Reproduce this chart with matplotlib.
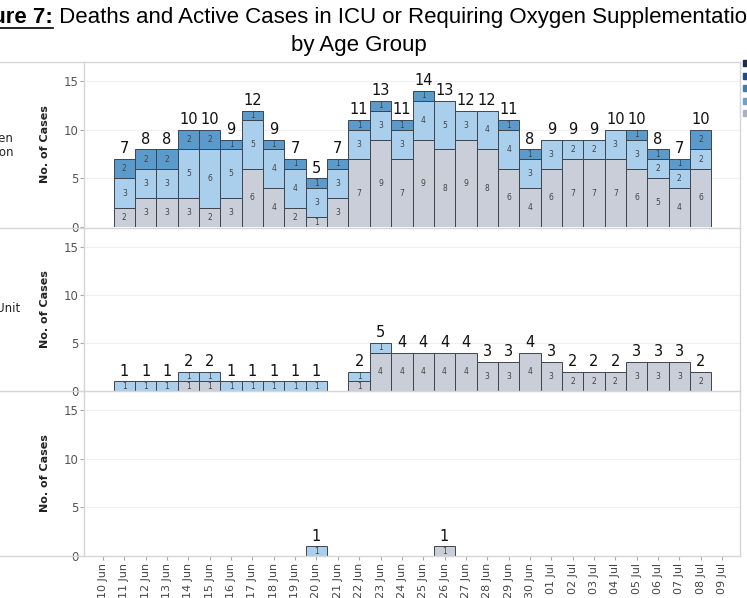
import numpy as np
import matplotlib
matplotlib.use('Agg')
import matplotlib.pyplot as plt
from matplotlib.lines import Line2D
from matplotlib.patches import Rectangle

# dates shown on the x axis
dates = ['10 Jun', '11 Jun', '12 Jun', '13 Jun', '14 Jun', '15 Jun', '16 Jun', '17 Jun',
         '18 Jun', '19 Jun', '20 Jun', '21 Jun', '22 Jun', '23 Jun', '24 Jun', '25 Jun',
         '26 Jun', '27 Jun', '28 Jun', '29 Jun', '30 Jun', '01 Jul', '02 Jul', '03 Jul',
         '04 Jul', '05 Jul', '06 Jul', '07 Jul', '08 Jul', '09 Jul']

# requiring oxygen supplementation (bottom -> top of stack)
oxy_grey = [0, 2, 3, 3, 3, 2, 3, 6, 4, 2, 1, 3, 7, 9, 7, 9, 8, 9, 8, 6, 4, 6, 7, 7, 7, 6, 5, 4, 6, 0]
oxy_light = [0, 3, 3, 3, 5, 6, 5, 5, 4, 4, 3, 3, 3, 3, 3, 4, 5, 3, 4, 4, 3, 3, 2, 2, 3, 3, 2, 2, 2, 0]
oxy_mid = [0, 2, 2, 2, 2, 2, 1, 1, 1, 1, 1, 1, 1, 1, 1, 1, 0, 0, 0, 1, 1, 0, 0, 0, 0, 1, 1, 1, 2, 0]

# intensive care unit
icu_grey = [0, 0, 0, 0, 1, 1, 0, 0, 0, 0, 0, 0, 1, 4, 4, 4, 4, 4, 3, 3, 4, 3, 2, 2, 2, 3, 3, 3, 2, 0]
icu_light = [0, 1, 1, 1, 1, 1, 1, 1, 1, 1, 1, 0, 1, 1, 0, 0, 0, 0, 0, 0, 0, 0, 0, 0, 0, 0, 0, 0, 0, 0]

# deaths
death_grey = [0]*16 + [1] + [0]*13
death_light = [0]*10 + [1] + [0]*19

col_grey = '#c9ced8'
col_light = '#a9cfec'
col_mid = '#5b9bcc'
edge = '#3c4450'
line_col = '#d6d6d6'

W, H = 747, 598
fig = plt.figure(figsize=(W/100, H/100), dpi=100)

def fx(px):
    return px / W

def fy(py):
    return 1 - py / H

panels = [
    (62, 227, [(oxy_grey, col_grey), (oxy_light, col_light), (oxy_mid, col_mid)]),
    (228, 391, [(icu_grey, col_grey), (icu_light, col_light)]),
    (391, 556, [(death_grey, col_grey), (death_light, col_light)]),
]

x = np.arange(len(dates))
axes = []
for i, (top, bot, layers) in enumerate(panels):
    ax = fig.add_axes([fx(84), fy(bot), fx(740) - fx(84), (bot - top) / H])
    axes.append(ax)
    bottom = np.zeros(len(dates))
    for vals, col in layers:
        vals = np.array(vals, dtype=float)
        mask = vals > 0
        ax.bar(x[mask], vals[mask], bottom=bottom[mask], width=1.0, color=col,
               edgecolor=edge, linewidth=0.7, zorder=3)
        for xi, v, b in zip(x[mask], vals[mask], bottom[mask]):
            ax.text(xi, b + v / 2, '%d' % v, ha='center', va='center',
                    fontsize=5.5, color='#444444', zorder=4)
        bottom = bottom + vals
    for xi, t in zip(x, bottom):
        if t > 0:
            ax.annotate('%d' % t, (xi, t), xytext=(0, 2), textcoords='offset points',
                        ha='center', va='bottom', fontsize=10.5, color='#111111')
    ax.set_xlim(-0.89, 29.84)
    ax.set_ylim(0, 17)
    ax.set_yticks([0, 5, 10, 15])
    ax.yaxis.grid(True, color='#f0f0f0', linewidth=0.8, zorder=0)
    ax.tick_params(axis='y', length=3, color='#aaaaaa', labelsize=8.5, labelcolor='#555555', pad=1)
    for s in ['top', 'bottom']:
        ax.spines[s].set_visible(False)
    for s in ['left', 'right']:
        ax.spines[s].set_color(line_col)
        ax.spines[s].set_linewidth(1.0)
    ax.set_ylabel('No. of Cases', fontsize=8, fontweight='bold', color='#222222', labelpad=10)
    if i < 2:
        ax.set_xticks([])
    else:
        ax.set_xticks(x)
        ax.set_xticklabels(dates, rotation=90, fontsize=8, color='#444444')
        ax.tick_params(axis='x', length=3, color='#aaaaaa', pad=2)

# panel separators across the whole width
for py in [62, 228, 391, 556]:
    fig.add_artist(Line2D([0, fx(740)], [fy(py), fy(py)], color=line_col, linewidth=1.0))

# row labels (cut off at the left edge, as in the source)
fig.text(fx(13), fy(138), 'Requiring Oxygen', ha='right', va='center', fontsize=8.5,
         color='#222222')
fig.text(fx(14), fy(153), 'Supplementation', ha='right', va='center', fontsize=8.5,
         color='#222222')
fig.text(fx(20), fy(309), 'Intensive Care Unit', ha='right', va='center', fontsize=8.5,
         color='#222222')

# legend swatches peeking in at the right edge
legend_cols = ['#1f2f4a', '#1d4f8a', '#3f7fae', '#6aa3cc', '#a9b3bf']
for k, c in enumerate(legend_cols):
    fig.add_artist(Rectangle((fx(743), fy(66 + k * 12.5)), fx(6), 6 / H, color=c))

# title
cx = 359
t1 = fig.text(0, fy(17), 'Figure 7:', fontsize=16, fontweight='bold', family='Liberation Sans',
              va='center', ha='left')
t2 = fig.text(0, fy(17), ' Deaths and Active Cases in ICU or Requiring Oxygen Supplementation',
              fontsize=16, family='Liberation Sans', va='center', ha='left')
r = fig.canvas.get_renderer()
w1 = t1.get_window_extent(r).width
w2 = t2.get_window_extent(r).width
left = cx - (w1 + w2) / 2
t1.set_x(fx(left))
t2.set_x(fx(left + w1))
fig.add_artist(Line2D([fx(left), fx(left + w1)], [fy(28), fy(28)], color='black', linewidth=1.2))
fig.text(fx(cx), fy(45), 'by Age Group', fontsize=16, family='Liberation Sans',
         ha='center', va='center')

fig.savefig('out.png', dpi=100)
